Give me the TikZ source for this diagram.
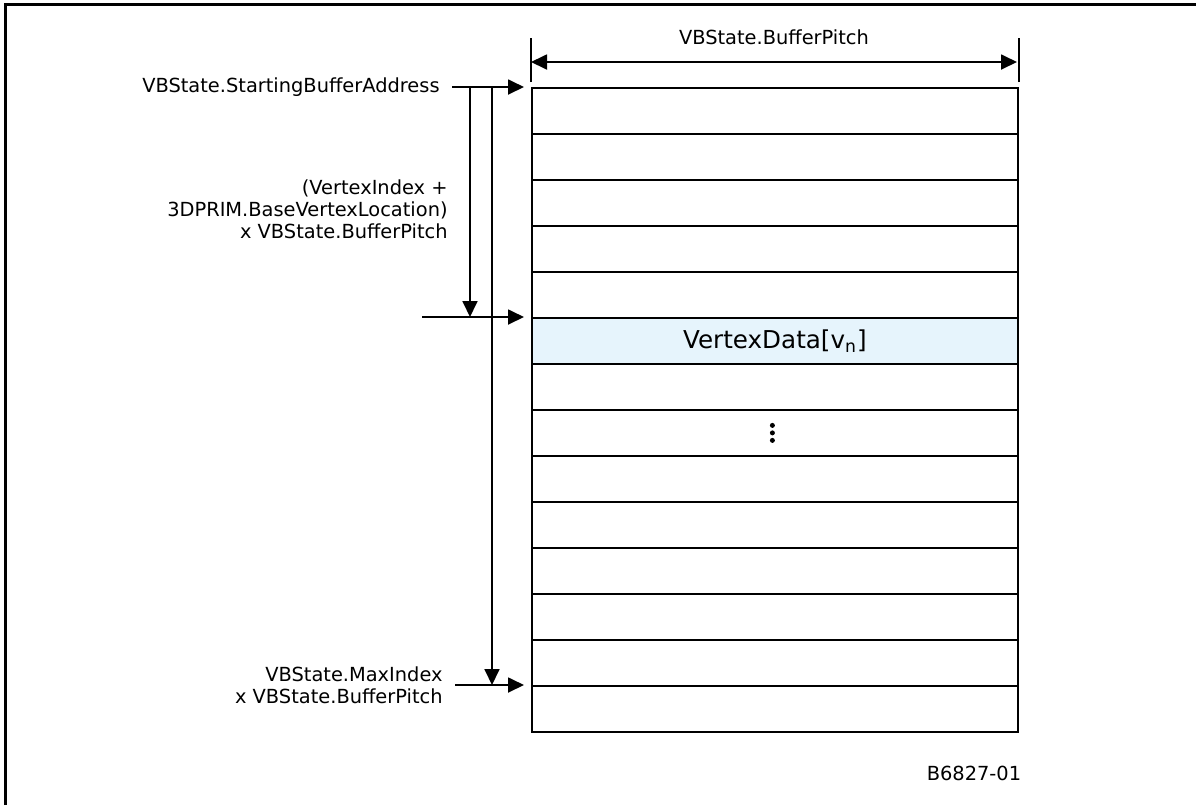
\documentclass[tikz,border=0pt]{standalone}
\usepackage{fontspec}
\setmainfont{DejaVu Sans}
\usetikzlibrary{arrows.meta}
\definecolor{vertexblue}{RGB}{230,244,252}
\tikzset{
  rowcell/.style={draw, line width=0.9pt, anchor=north west, inner sep=0pt,
    minimum width=243pt, minimum height=23pt},
  sidelabel/.style={inner sep=0pt, anchor=east, align=right},
  link/.style={line width=0.9pt, -{Triangle[length=8pt,width=7.5pt]}}
}
\begin{document}
\begin{tikzpicture}[x=0.5pt, y=-0.5pt, font=\fontsize{9.7}{11}\selectfont]
% Set the page size (pixel units, y downwards)
\def\rowh{46} % Each row is 46 units high
\useasboundingbox (0,0) rectangle (1196,805);
\draw[line width=1.5pt] (5,805) -- (5,4) -- (1196,4);

% Draw the buffer rows
\foreach \i in {1,...,14}{
  \node[rowcell] (row\i) at (531,{87+(\i-1)*\rowh}) {};
}
\node[rowcell, fill=vertexblue, font=\fontsize{12.3}{14}\selectfont] (vdata) at (row6.north west) {VertexData[v\textsubscript{n}]};
\foreach \d in {-7.5,0,7.5}{
  \fill ([yshift=\d pt*0.5]row8.center) ++(-2.5,0) circle (2.5);
}

% Pitch dimension
\node (pitch) at (774,37) {VBState.BufferPitch};
\draw[line width=0.9pt] (row1.north west) ++(0,-5) -- ++(0,-44);
\draw[line width=0.9pt] (row1.north east) ++(0,-5) -- ++(0,-44);
\draw[link, {Triangle[length=8pt,width=7.5pt]}-{Triangle[length=8pt,width=7.5pt]}] (531,62) -- (1017,62);

% Left side labels and arrows
\node[sidelabel] (start) at (440,87) {VBState.StartingBufferAddress};
\node[sidelabel] (offset) at (448,209) {(VertexIndex +\\3DPRIM.BaseVertexLocation)\\x VBState.BufferPitch};
\node[sidelabel] (maxidx) at (443,685) {VBState.MaxIndex\\x VBState.BufferPitch};
\coordinate (tapA) at (470,87);
\coordinate (tapB) at (492,87);
\coordinate (vnIn) at (422,317);
\draw[link, shorten >=3.5pt] ([xshift=6pt]start.east) -- (row1.north west);
\draw[link] (tapA) -- (tapA |- row6.north west);
\draw[link] (tapB) -- (tapB |- row14.north west);
\draw[link, shorten >=3.5pt] (vnIn) -- (row6.north west);
\draw[link, shorten >=3.5pt] ([xshift=6pt]maxidx.east) -- (row14.north west);

\node (figid) at (974,773) {B6827-01};
\end{tikzpicture}
\end{document}
